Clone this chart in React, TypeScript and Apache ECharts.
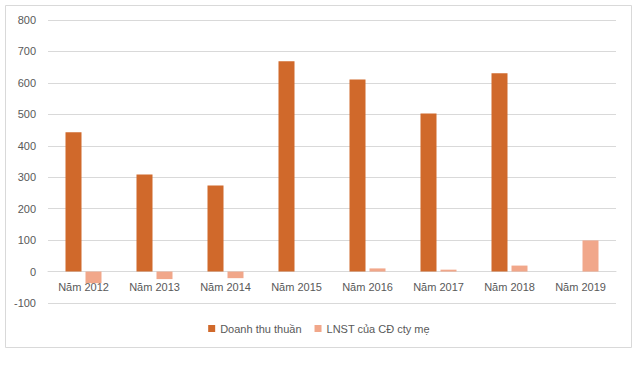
import React, { useEffect, useRef } from "react";
import * as echarts from "echarts";

const categories = ["Năm 2012", "Năm 2013", "Năm 2014", "Năm 2015", "Năm 2016", "Năm 2017", "Năm 2018", "Năm 2019"];
const revenue: (number | null)[] = [443, 309, 274, 669, 611, 503, 631, null];
const profit: (number | null)[] = [-37, -24, -21, null, 10, 6, 19, 99];
const seriesNames = ["Doanh thu thuần", "LNST của CĐ cty mẹ"];
const yTicks = { min: -100, max: 800, interval: 100 };

export default function App() {
  const ref = useRef<HTMLDivElement>(null);
  useEffect(() => {
    document.body.style.margin = "0";
    if (!ref.current) return;
    const chart = echarts.init(ref.current, null, { renderer: "svg" });
    const font = "'Liberation Sans', Arial, sans-serif";
    const gridTop = 20;
    const gridBottom = 62;
    const plotH = 365 - gridTop - gridBottom;
    const zeroOffset = -plotH * (0 - yTicks.min) / (yTicks.max - yTicks.min);
    chart.setOption({
      animation: false,
      backgroundColor: "#ffffff",
      textStyle: { fontFamily: font },
      graphic: [
        {
          type: "rect",
          shape: { x: 5.5, y: 5.5, width: 626, height: 342 },
          style: { fill: "none", stroke: "#d9d9d9", lineWidth: 1 },
          silent: true,
          z: -1,
        },
      ],
      grid: { left: 48, right: 22, top: gridTop, bottom: gridBottom },
      legend: {
        data: seriesNames,
        bottom: 26,
        left: "center",
        itemWidth: 7,
        itemHeight: 7,
        itemGap: 13,
        icon: "rect",
        textStyle: { color: "#595959", fontSize: 11, fontFamily: font },
      },
      xAxis: {
        type: "category",
        data: categories,
        offset: zeroOffset,
        axisLine: { show: true, onZero: false, lineStyle: { color: "#d9d9d9" } },
        axisTick: { show: false },
        axisLabel: { color: "#595959", fontSize: 11, margin: 10, fontFamily: font },
      },
      yAxis: {
        type: "value",
        min: yTicks.min,
        max: yTicks.max,
        interval: yTicks.interval,
        axisLine: { show: false },
        axisTick: { show: false },
        axisLabel: { color: "#595959", fontSize: 11, margin: 12, fontFamily: font },
        splitLine: { lineStyle: { color: "#d9d9d9" } },
      },
      series: [
        {
          name: seriesNames[0],
          type: "bar",
          data: revenue,
          barWidth: 16,
          barGap: "25%",
          itemStyle: { color: "#D0692B" },
        },
        {
          name: seriesNames[1],
          type: "bar",
          data: profit,
          barWidth: 16,
          barGap: "25%",
          itemStyle: { color: "#F1A78A" },
        },
      ],
    });
    return () => chart.dispose();
  }, []);
  return <div ref={ref} style={{ width: 638, height: 365 }} />;
}
